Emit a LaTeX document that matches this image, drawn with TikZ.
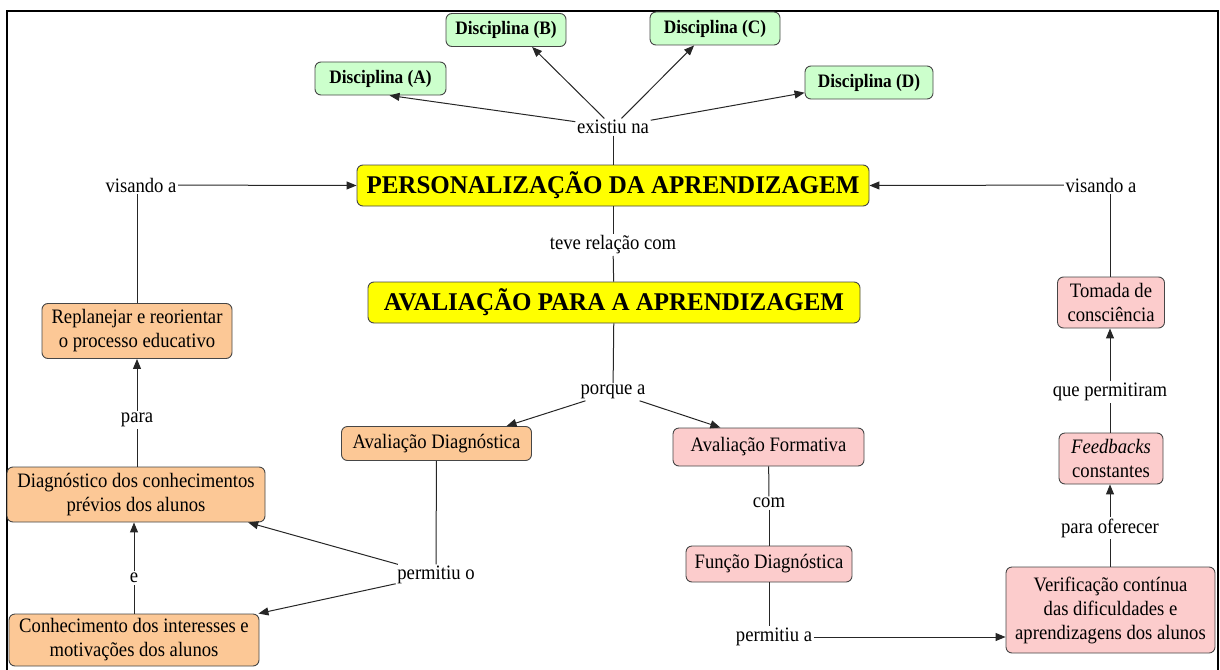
\documentclass[tikz,border=0pt]{standalone}
\usepackage{fontspec}
\setmainfont{LiberationSerif}[Extension=.ttf, UprightFont=*-Regular, BoldFont=*-Bold,
  ItalicFont=*-Italic, BoldItalicFont=*-BoldItalic, FakeStretch=0.91]
\newfontfamily\titlefamily{LiberationSerif}[Extension=.ttf, UprightFont=*-Bold, FakeStretch=0.98]
\usetikzlibrary{arrows.meta}

\definecolor{discgreen}{RGB}{204,255,204}
\definecolor{titleyellow}{RGB}{255,255,0}
\definecolor{peach}{RGB}{252,200,150}
\definecolor{rose}{RGB}{252,204,204}
\definecolor{edgegray}{RGB}{70,70,70}

\newcommand{\txtfont}{\fontsize{20.5}{24}\selectfont}

\begin{document}
\begin{tikzpicture}[x=1pt,y=-1pt,
  box/.style={draw=edgegray, line width=0.9pt, rounded corners=6pt,
              align=center, inner sep=0pt, font=\txtfont},
  disc/.style={box, fill=discgreen, font=\fontsize{19}{22}\selectfont\bfseries,
               minimum height=33pt},
  title/.style={box, fill=titleyellow, font=\titlefamily\fontsize{25.5}{28}\selectfont,
                minimum height=41pt},
  orangebox/.style={box, fill=peach},
  pinkbox/.style={box, fill=rose},
  lbl/.style={inner sep=1.5pt, font=\txtfont},
  link/.style={draw=black!85, line width=1pt},
  arr/.style={link, -{Triangle[length=10pt,width=8pt]}}
]
\useasboundingbox (0,0) rectangle (1220,669);

% outer frame (open at the bottom)
\draw[line width=2pt] (7,700) -- (7,11) -- (1218,11) -- (1218,700);

% disciplines
\node[disc, minimum width=131pt] (dA) at (380.5,78.5) {Disciplina (A)};
\node[disc, minimum width=120pt] (dB) at (506,30) {Disciplina (B)};
\node[disc, minimum width=130pt] (dC) at (715,28.5) {Disciplina (C)};
\node[disc, minimum width=128pt] (dD) at (869,82.5) {Disciplina (D)};
\node[lbl] (exist) at (613,127) {existiu na};

% central concepts
\node[title, minimum width=512pt] (pers) at (613,185.5) {PERSONALIZAÇÃO DA APRENDIZAGEM};
\node[lbl] (teve) at (613,245) {teve relação com};
\node[title, minimum width=492pt] (aval) at (614,302.5) {AVALIAÇÃO PARA A APRENDIZAGEM};
\node[lbl] (porque) at (613,392) {porque a};

% diagnostic branch
\node[orangebox, minimum width=190pt, minimum height=34pt] (avd) at (436.5,443.5) {Avaliação Diagnóstica};
\node[lbl] (permo) at (436,575) {permitiu o};
\node[orangebox, minimum width=258pt, minimum height=55pt] (diag) at (136,494.5) {Diagnóstico dos conhecimentos\\prévios dos alunos};
\node[orangebox, minimum width=250pt, minimum height=52pt] (conh) at (134,640) {Conhecimento dos interesses e\\motivações dos alunos};
\node[orangebox, minimum width=190pt, minimum height=55pt] (rep) at (137,331) {Replanejar e reorientar\\o processo educativo};
\node[lbl] (para) at (137,420) {para};
\node[lbl] (e) at (134,578) {e};
\node[lbl] (visL) at (141,185) {visando a};

% formative branch
\node[pinkbox, minimum width=191pt, minimum height=38pt] (avf) at (768.5,447) {Avaliação Formativa};
\node[lbl] (com) at (769,503) {com};
\node[pinkbox, minimum width=166pt, minimum height=36pt] (func) at (769,564) {Função Diagnóstica};
\node[lbl] (perma) at (774,637) {permitiu a};
\node[pinkbox, minimum width=209pt, minimum height=86pt] (ver) at (1110.5,610) {Verificação contínua\\das dificuldades e\\aprendizagens dos alunos};
\node[lbl] (parao) at (1110,528) {para oferecer};
\node[pinkbox, minimum width=104pt, minimum height=51pt] (feed) at (1111,458.5) {\textit{Feedbacks}\\constantes};
\node[lbl] (que) at (1110,392) {que permitiram};
\node[pinkbox, minimum width=107pt, minimum height=51pt] (tom) at (1111,302.5) {Tomada de\\consciência};
\node[lbl] (visR) at (1101,185) {visando a};

% connectors: top
\draw[arr] (exist) -- (dA.-62);
\draw[arr] (exist) -- (dB.-33);
\draw[arr] (exist) -- (dC.-141);
\draw[arr] (exist) -- (dD.-171);
\draw[link] (exist) -- (pers);
\draw[link] (pers) -- (teve);
\draw[link] (teve) -- (aval);
\draw[link] (aval) -- (porque);
\draw[arr] (porque) -- (avd.14);
\draw[arr] (porque) -- (avf.158);

% connectors: left
\draw[link] (avd) -- (permo);
\draw[arr] (permo) -- (diag.-14);
\draw[arr] (permo) -- (conh.12);
\draw[link] (conh.north -| e) -- (e);
\draw[arr] (e) -- (diag.south -| e);
\draw[link] (diag.north -| para) -- (para);
\draw[arr] (para) -- (rep.south -| para);
\draw[link] (rep.north -| para) -- (para |- visL.south);
\draw[arr] (visL) -- (pers.west);

% connectors: right
\draw[link] (avf) -- (com);
\draw[link] (com) -- (func);
\draw[link] (func.south) -- (func.south |- perma.north);
\draw[arr] (perma) -- (perma -| ver.west);
\draw[link] (ver.north -| parao) -- (parao);
\draw[arr] (parao) -- (feed.south -| parao);
\draw[link] (feed.north -| que) -- (que);
\draw[arr] (que) -- (tom.south -| que);
\draw[link] (tom.north -| que) -- (que |- visR.south);
\draw[arr] (visR) -- (pers.east);
\end{tikzpicture}
\end{document}
